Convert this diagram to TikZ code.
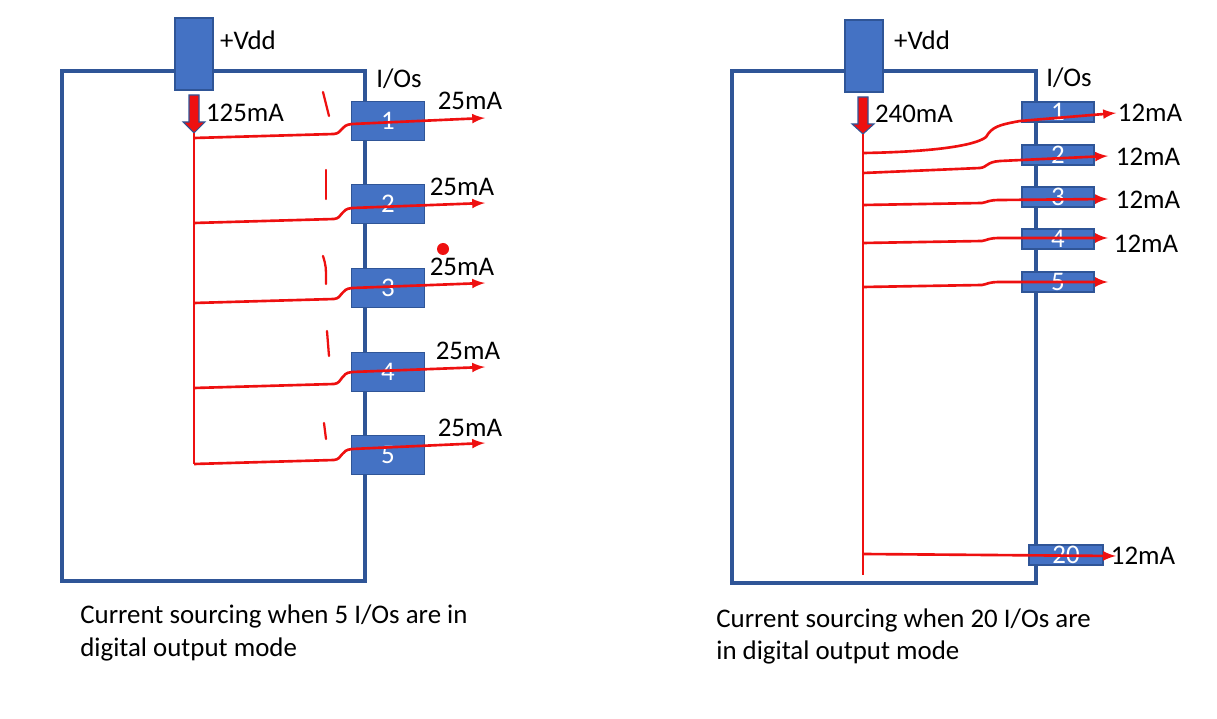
\documentclass[tikz,border=0pt]{standalone}
\usepackage{fontspec}
\setmainfont{Carlito}
\usepackage{tikz}
\usetikzlibrary{calc, arrows}
\definecolor{chipblue}{RGB}{47,85,151}
\definecolor{pinblue}{RGB}{68,114,196}
\definecolor{flowred}{RGB}{238,16,16}
\tikzset{>=latex}
\tikzset{
  chip/.style = {draw=chipblue, line width=2.3pt},
  vddbox/.style = {draw=chipblue, line width=0.6pt, fill=pinblue},
  pinbox/.style = {draw=chipblue, line width=0.6pt, fill=pinblue, text=white, inner sep=0pt, minimum width=1.46cm, minimum height=0.78cm},
  smallpin/.style = {pinbox, minimum height=0.4cm, minimum width=1.44cm},
  currentline/.style = {draw=flowred, line width=1.5pt},
  bigarrow/.style = {draw=chipblue, fill=flowred, line width=0.6pt},
  handmark/.style = {draw=flowred, line width=1.3pt, line cap=round},
  lbl/.style = {inner sep=0pt}
}

\begin{document}
\begin{tikzpicture}[x=0.02cm, y=-0.02cm, font=\fontsize{15.3}{18}\selectfont]
\useasboundingbox (0,0) rectangle (1217,719);

% left chip, 5 outputs
\draw[chip] (62,71) rectangle (365,581);
\draw[vddbox] (175,18) rectangle (213,90);
\node[lbl] (vddl) at (248,40) {+Vdd};
\node[lbl] (iol) at (399,79) {I/Os};
\draw[bigarrow] (189,95) -- (199,95) -- (199,122) -- (205,122) -- (194,133) -- (183,122) -- (189,122) -- cycle;
\node[lbl] (il) at (245,113) {125mA};

\node[pinbox] (l1) at (388,121) {1};
\node[pinbox] (l2) at (388,204) {2};
\node[pinbox] (l3) at (388,288) {3};
\node[pinbox] (l4) at (388,372) {4};
\node[pinbox] (l5) at (388,455) {5};

\coordinate (lt0) at (194,133);
\coordinate (lt5) at (194,464);
\draw[currentline] (lt0) -- (lt5);
\coordinate (lo1) at (485,118);
\coordinate (lo2) at (485,203);
\coordinate (lo3) at (485,283);
\coordinate (lo4) at (485,367);
\coordinate (lo5) at (485,443);
\draw[currentline, ->] (194,138) -- (334,134) .. controls (343,133) and (340,125) .. (352,124) -- (lo1);
\draw[currentline, ->] (194,223) -- (334,219) .. controls (343,218) and (340,209) .. (352,208) -- (lo2);
\draw[currentline, ->] (194,303) -- (334,299) .. controls (343,298) and (340,289) .. (352,288) -- (lo3);
\draw[currentline, ->] (194,388) -- (334,384) .. controls (343,383) and (340,373) .. (352,372) -- (lo4);
\draw[currentline, ->] (194,464) -- (334,460) .. controls (343,459) and (340,450) .. (352,449) -- (lo5);

\node[lbl] (al1) at (470,101) {25mA};
\node[lbl] (al2) at (462,187) {25mA};
\node[lbl] (al3) at (462,267) {25mA};
\node[lbl] (al4) at (468,351) {25mA};
\node[lbl] (al5) at (470,428) {25mA};

% hand marks
\draw[handmark] (323,92) -- (329,116);
\draw[handmark] (326,170) -- (326,199);
\draw[handmark] (323,256) .. controls (326,266) .. (326,284);
\draw[handmark] (327,331) -- (329,356);
\draw[handmark] (324,423) -- (326,439);
\fill[flowred] (443,249) circle [radius=6];

\node[lbl, anchor=base west] (capl1) at (80,623) {Current sourcing when 5 I/Os are in};
\node[lbl, anchor=base west] (capl2) at (80,656) {digital output mode};

% right chip, 20 outputs
\draw[chip] (732,71) rectangle (1036,583);
\draw[vddbox] (845,20) rectangle (883,92);
\node[lbl] (vddr) at (922,40) {+Vdd};
\node[lbl] (ior) at (1069,78) {I/Os};
\draw[bigarrow] (858,97) -- (868,97) -- (868,124) -- (874,124) -- (863,134) -- (852,124) -- (858,124) -- cycle;
\node[lbl] (ir) at (914,114) {240mA};

\node[smallpin] (r1) at (1058,112) {1};
\node[smallpin] (r2) at (1058,155) {2};
\node[smallpin] (r3) at (1058,197) {3};
\node[smallpin] (r4) at (1058,239) {4};
\node[smallpin] (r5) at (1058,282) {5};
\node[smallpin, minimum width=1.48cm] (r20) at (1066,555) {20};

\coordinate (rt0) at (863,134);
\coordinate (rt20) at (863,575);
\draw[currentline] (rt0) -- (rt20);
\coordinate (ro1) at (1116,113);
\coordinate (ro2) at (1108,156);
\coordinate (ro3) at (1108,199);
\coordinate (ro4) at (1108,238);
\coordinate (ro5) at (1108,282);
\coordinate (ro20) at (1116,556);
\draw[currentline, ->] (863,153) .. controls (930,152) and (975,146) .. (986,137) .. controls (992,127) and (998,125) .. (1020,121) -- (ro1);
\draw[currentline, ->] (863,173) -- (980,168) .. controls (988,167) and (986,162) .. (1000,161) -- (ro2);
\draw[currentline, ->] (863,205) -- (982,203) .. controls (988,202) and (988,200) .. (1000,200) -- (ro3);
\draw[currentline, ->] (863,243) -- (982,241) .. controls (988,240) and (988,238) .. (1000,238) -- (ro4);
\draw[currentline, ->] (863,287) -- (982,285) .. controls (988,284) and (988,282) .. (1000,282) -- (ro5);
\draw[currentline, ->] (863,554) -- (ro20);

\node[lbl] (ar1) at (1150,113) {12mA};
\node[lbl] (ar2) at (1148,157) {12mA};
\node[lbl] (ar3) at (1148,200) {12mA};
\node[lbl] (ar4) at (1146,244) {12mA};
\node[lbl] (ar20) at (1143,556) {12mA};

\node[lbl, anchor=base west] (capr1) at (716,627) {Current sourcing when 20 I/Os are};
\node[lbl, anchor=base west] (capr2) at (716,659) {in digital output mode};
\end{tikzpicture}
\end{document}
